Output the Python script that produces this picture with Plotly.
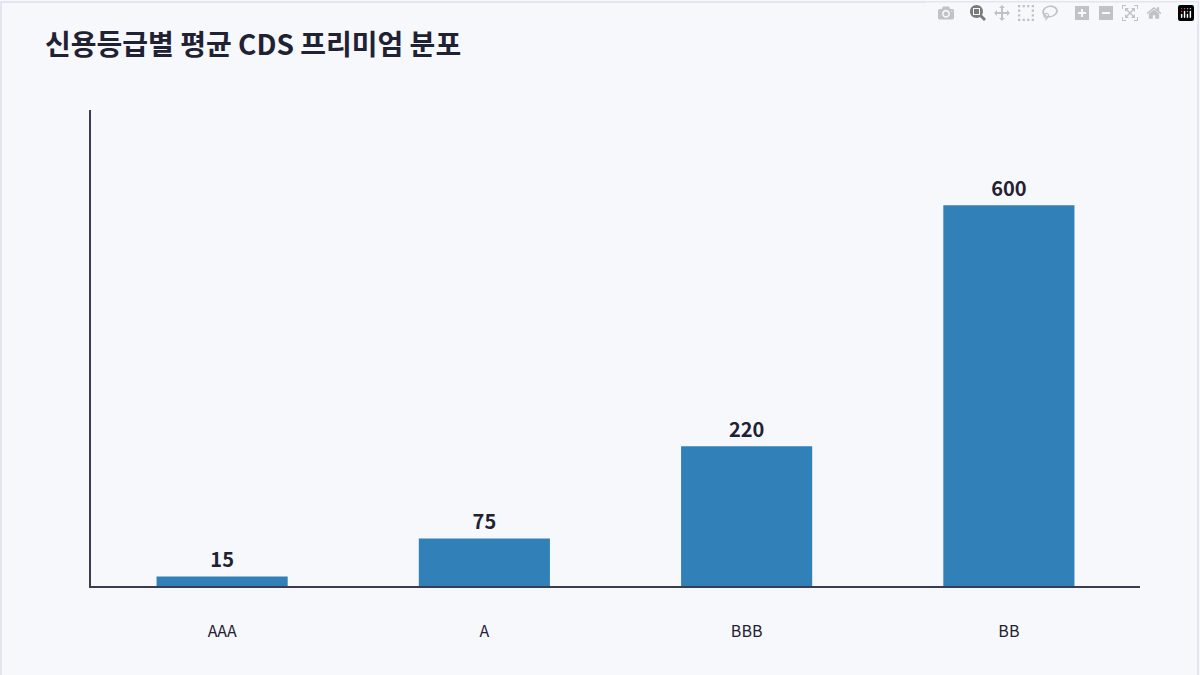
import plotly.graph_objects as go

ratings = ["AAA", "A", "BBB", "BB"]
cds_premium = [15, 75, 220, 600]

font = "Noto Sans CJK KR"
L, R, T, B = 91, 60, 110, 89
W, H = 1200, 675
pw, ph = W - L - R, H - T - B

fig = go.Figure(go.Bar(
    x=ratings, y=cds_premium, width=0.5,
    marker=dict(color="#3181b8", line=dict(width=0)),
    text=[f"<b>{v}</b>" for v in cds_premium], textposition="outside", cliponaxis=False,
    textfont=dict(family=font, size=20, color="#1f2233"),
))

fig.update_layout(
    width=W, height=H,
    margin=dict(l=L, r=R, t=T, b=B),
    paper_bgcolor="#f7f8fc", plot_bgcolor="#f7f8fc",
    font=dict(family=font, color="#1f2233"),
    title=dict(text="<b>신용등급별 평균 CDS 프리미엄 분포</b>", x=45 / W, xanchor="left",
               y=1 - 45 / H, yanchor="middle", font=dict(size=28, family=font, color="#1f2233")),
    showlegend=False,
    xaxis=dict(showline=True, linecolor="#3a3d52", linewidth=1.5, ticks="", showgrid=False,
               tickfont=dict(size=16, color="#1f2233"), ticklabelstandoff=30),
    yaxis=dict(range=[0, 750], showline=True, linecolor="#3a3d52", linewidth=1.5,
               showgrid=False, showticklabels=False, ticks="", zeroline=False),
    shapes=[dict(type="rect", xref="paper", yref="paper",
                 x0=(1 - L) / pw, x1=(W - 2 - L) / pw,
                 y0=(B - H + 1) / ph, y1=(H - B - 2) / ph,
                 line=dict(color="#dde0ea", width=1.5))],
)

fig.write_html("out.html", post_script="document.body.style.margin='0';")
